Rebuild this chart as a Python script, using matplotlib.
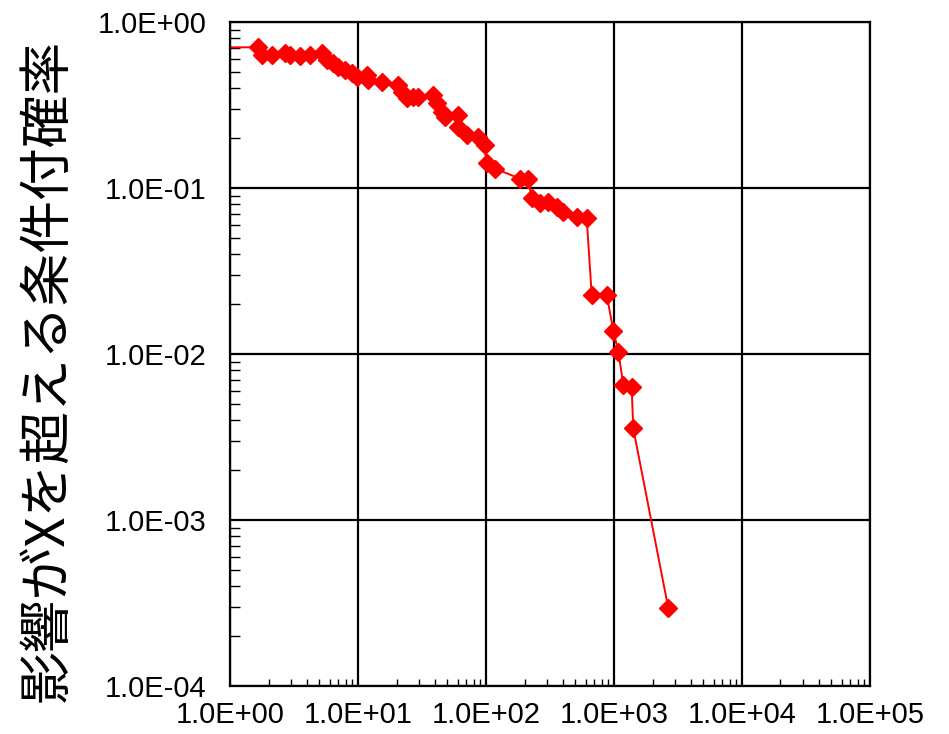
import numpy as np
import matplotlib
matplotlib.use('Agg')
import matplotlib.pyplot as plt
from matplotlib.ticker import LogLocator, FixedLocator, NullFormatter

# exceedance curve values
x_vals = [0.5, 1.66, 1.77, 2.12, 2.69, 2.94, 3.52, 4.22, 5.2, 5.69, 6.41, 7.0,
          7.91, 8.93, 9.77, 11.7, 12.0, 15.3, 20.7, 21.9, 24.0, 27.0, 29.6,
          38.8, 41.2, 45.1, 47.9, 60.8, 60.8, 70.6, 87.0, 98.0, 101.0, 117.0,
          184.0, 214.0, 227.0, 263.0, 307.0, 357.0, 402.0, 511.0, 612.0,
          670.0, 877.0, 989.0, 1082.0, 1183.0, 1374.0, 1415.0, 2658.0]
p_vals = [0.704, 0.704, 0.633, 0.633, 0.648, 0.633, 0.624, 0.633, 0.653, 0.59,
          0.569, 0.538, 0.514, 0.491, 0.469, 0.48, 0.447, 0.437, 0.417, 0.38,
          0.347, 0.355, 0.355, 0.363, 0.324, 0.288, 0.269, 0.275, 0.234, 0.209,
          0.204, 0.182, 0.141, 0.131, 0.114, 0.114, 0.0867, 0.081, 0.0826,
          0.077, 0.072, 0.0672, 0.0657, 0.0227, 0.0227, 0.0138, 0.0103, 0.0065,
          0.0063, 0.00356, 0.000294]

x_ticks = [1e0, 1e1, 1e2, 1e3, 1e4, 1e5]
x_ticklabels = ['1.0E+00', '1.0E+01', '1.0E+02', '1.0E+03', '1.0E+04', '1.0E+05']
y_ticks = [1e-4, 1e-3, 1e-2, 1e-1, 1e0]
y_ticklabels = ['1.0E-04', '1.0E-03', '1.0E-02', '1.0E-01', '1.0E+00']
ylabel = '影響がXを超える条件付確率'

plt.rcParams['font.family'] = ['Liberation Sans', 'DejaVu Sans']

fig = plt.figure(figsize=(9.49, 7.34), dpi=100)
ax = fig.add_axes([0.2424, 0.0654, 0.9167 - 0.2424, 0.970 - 0.0654])

ax.plot(x_vals, p_vals, color='#ff0000', lw=1.4, marker='D', ms=9.5,
        mfc='#ff0000', mec='#ff0000')

ax.set_xscale('log')
ax.set_yscale('log')
ax.set_xlim(1, 1e5)
ax.set_ylim(1e-4, 1)

ax.xaxis.set_major_locator(FixedLocator(x_ticks))
ax.yaxis.set_major_locator(FixedLocator(y_ticks))
ax.set_xticklabels(x_ticklabels)
ax.set_yticklabels(y_ticklabels)
ax.xaxis.set_minor_locator(LogLocator(base=10, subs=np.arange(2, 10), numticks=20))
ax.yaxis.set_minor_locator(LogLocator(base=10, subs=np.arange(2, 10), numticks=20))
ax.xaxis.set_minor_formatter(NullFormatter())
ax.yaxis.set_minor_formatter(NullFormatter())

ax.tick_params(which='major', length=0, labelsize=21, colors='black')
ax.tick_params(axis='y', which='major', pad=17)
ax.tick_params(axis='x', which='major', pad=11)
ax.tick_params(axis='x', which='minor', direction='in', length=5, width=1,
               top=False)
ax.tick_params(axis='y', which='minor', direction='in', length=7, width=1,
               right=False)

ax.grid(True, which='major', color='black', lw=1.6)
for s in ax.spines.values():
    s.set_linewidth(1.6)

fig.text(0.05, 0.495, ylabel, rotation=90, ha='center', va='center',
         fontsize=38, family=['Noto Sans CJK JP', 'DejaVu Sans'])

fig.savefig('out.png', dpi=100)
